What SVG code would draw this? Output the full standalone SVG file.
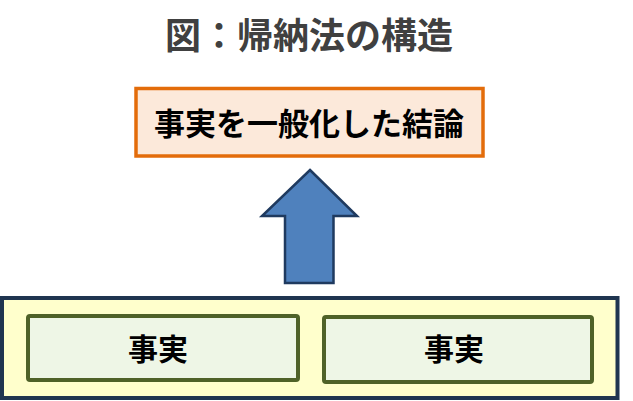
<svg xmlns="http://www.w3.org/2000/svg" width="633" height="401" viewBox="0 0 633 401">
<style>
.t{font-family:"Noto Sans CJK JP","Noto Sans CJK SC",sans-serif;font-weight:bold;text-anchor:middle}
.fact{fill:#EEF6E6;stroke:#4F6228;stroke-width:4}
</style>
<rect width="633" height="401" fill="#FFFFFF"/>
<g id="title"><text class="t" x="309" y="49" font-size="36" fill="#404040">図：帰納法の構造</text></g>
<g id="conclusion">
<rect x="136" y="88.5" width="347" height="67.5" fill="#FCE9DA" stroke="#E36C0A" stroke-width="3.5"/>
<text class="t" x="309" y="135" font-size="31" fill="#000000">事実を一般化した結論</text>
</g>
<g id="connectors">
<polygon points="310,170 357,216 333.5,216 333.5,283 285,283 285,216 262,216" fill="#4F81BD" stroke="#1F3A5F" stroke-width="2.5" stroke-linejoin="miter"/>
</g>
<g id="facts">
<rect x="2" y="298" width="615.5" height="100" fill="#FFFFCC" stroke="#1F3550" stroke-width="4"/>
<g id="fact1">
<rect class="fact" x="28" y="316" width="270" height="64" rx="2"/>
<text class="t" x="158" y="360" font-size="30" fill="#000000">事実</text>
</g>
<g id="fact2">
<rect class="fact" x="324" y="317" width="268" height="65" rx="2"/>
<text class="t" x="454" y="360" font-size="30" fill="#000000">事実</text>
</g>
</g>
</svg>
